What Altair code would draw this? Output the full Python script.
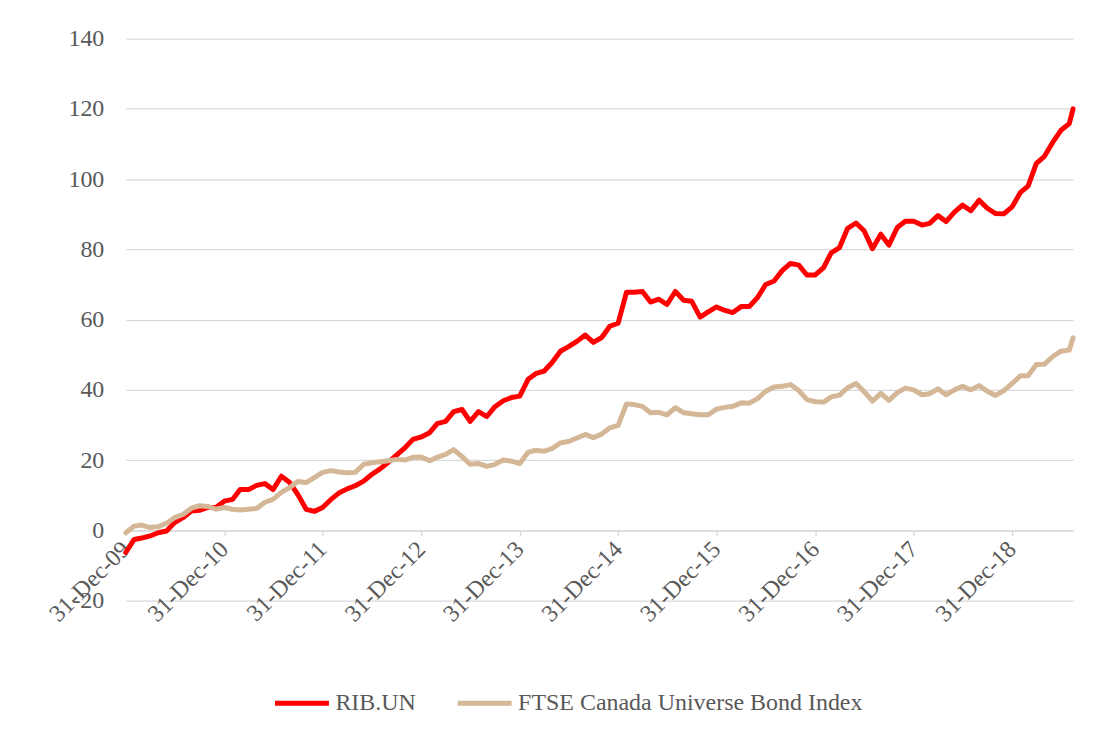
import altair as alt
import pandas as pd

# ---- data ----
series_names = ["RIB.UN", "FTSE Canada Universe Bond Index"]
series_colors = ["#FF0000", "#D4B797"]

# month-end observation dates, Dec-2009 .. Jul-2019, plus a final mid-August point
month_end_dates = list((pd.date_range("2010-01-01", "2019-08-01", freq="MS") - pd.Timedelta(days=1)).strftime("%Y-%m-%d"))
dates = month_end_dates + ["2019-08-14"]

rib = [
    -6.3, -2.6, -2.2, -1.6, -0.7, -0.2, 2.2, 3.6, 5.5, 5.7, 6.5, 6.5,
    8.3, 8.8, 11.6, 11.6, 12.8, 13.3, 11.6, 15.4, 13.6, 10.2, 6.0, 5.4,
    6.5, 8.8, 10.6, 11.8, 12.7, 14.0, 15.9, 17.5, 19.4, 21.4, 23.5, 25.9,
    26.6, 27.8, 30.4, 31.0, 33.8, 34.4, 31.0, 33.8, 32.4, 35.2, 36.9, 37.8,
    38.2, 43.0, 44.6, 45.3, 47.8, 51.0, 52.3, 53.8, 55.6, 53.5, 54.9, 58.1,
    59.0, 67.8, 67.8, 68.0, 65.0, 65.8, 64.3, 68.0, 65.5, 65.2, 60.7, 62.2,
    63.6, 62.6, 62.0, 63.7, 63.7, 66.3, 70.0, 71.0, 74.0, 76.0, 75.5, 72.7,
    72.7, 74.8, 79.0, 80.5, 86.0, 87.5, 85.3, 80.2, 84.3, 81.2, 86.2, 88.0,
    88.0, 86.9, 87.4, 89.6, 87.9, 90.6, 92.6, 91.0, 94.0, 91.7, 90.2, 90.1,
    92.1, 96.2, 98.0, 104.5, 106.5, 110.5, 113.9, 115.8,
    120.0,
]
ftse = [
    -0.7, 1.2, 1.5, 0.8, 1.0, 2.0, 3.6, 4.5, 6.3, 7.0, 6.8, 6.0,
    6.5, 6.0, 5.8, 6.0, 6.2, 8.0, 8.8, 10.8, 12.2, 13.9, 13.6, 15.0,
    16.5, 17.0, 16.6, 16.4, 16.5, 18.8, 19.2, 19.5, 19.8, 20.2, 20.0, 20.8,
    20.9, 19.8, 20.8, 21.6, 23.0, 21.0, 18.8, 19.0, 18.2, 18.8, 20.0, 19.7,
    19.0, 22.2, 22.8, 22.5, 23.3, 24.9, 25.3, 26.3, 27.3, 26.4, 27.4, 29.2,
    29.9, 36.0, 35.8, 35.3, 33.5, 33.6, 32.9, 34.9, 33.5, 33.2, 32.9, 32.9,
    34.5, 35.0, 35.3, 36.3, 36.2, 37.5, 39.6, 40.8, 41.0, 41.5, 39.8, 37.2,
    36.6, 36.5, 38.0, 38.5, 40.6, 41.8, 39.5, 36.8, 39.0, 37.0, 39.2, 40.5,
    40.0, 38.6, 38.9, 40.3, 38.6, 40.0, 41.0, 40.0, 41.2, 39.6, 38.4, 39.8,
    41.8, 44.0, 44.0, 47.2, 47.3, 49.5, 51.0, 51.3,
    54.8,
]

x_tick_dates = ["2009-12-31", "2010-12-31", "2011-12-31", "2012-12-31", "2013-12-31",
                "2014-12-31", "2015-12-31", "2016-12-31", "2017-12-31", "2018-12-31"]
y_ticks = [-20, 0, 20, 40, 60, 80, 100, 120, 140]
x_domain = ["2009-12-31", "2019-08-14"]


def dt(s):
    y, m, d = s.split("-")
    return alt.DateTime(year=int(y), month=int(m), date=int(d), utc=True)


n = min(len(dates), len(rib), len(ftse))
df = pd.DataFrame({
    "date": dates[:n] * 2,
    "value": rib[:n] + ftse[:n],
    "series": [series_names[0]] * n + [series_names[1]] * n,
})

W, H = 949, 563
FONT = "Liberation Serif"
FS = 24
TXT = "#595959"
GRID = "#D9D9D9"

y_min, y_max = y_ticks[0], y_ticks[-1]
axis_offset = -H * (0 - y_min) / (y_max - y_min)

color = alt.Color(
    "series:N",
    scale=alt.Scale(domain=series_names, range=series_colors),
    legend=alt.Legend(
        title=None, orient="none", direction="horizontal",
        legendX=147, legendY=636,
        symbolType="stroke", symbolStrokeWidth=5, symbolSize=2916,
        labelFont=FONT, labelFontSize=FS, labelColor=TXT, labelLimit=0,
        labelOffset=4, columnPadding=31, padding=0,
    ),
)

x = alt.X(
    "date:T",
    title=None,
    scale=alt.Scale(type="utc", domain=[dt(d) for d in x_domain]),
    axis=alt.Axis(
        values=[dt(d) for d in x_tick_dates],
        labelExpr="utcFormat(datum.value, '%d-%b-%y')",
        labelAngle=-45, labelAlign="right", labelBaseline="middle",
        labelFont=FONT, labelFontSize=FS, labelColor=TXT, labelPadding=10,
        labelOverlap=False, labelFlush=False, labelLimit=0,
        grid=False, domainColor=GRID, domainWidth=1.3,
        tickColor=GRID, tickSize=5, tickWidth=1.3,
        offset=axis_offset,
    ),
)
y = alt.Y(
    "value:Q",
    title=None,
    scale=alt.Scale(domain=[y_min, y_max], nice=False),
    axis=alt.Axis(
        values=y_ticks, domain=False, ticks=False,
        labelExpr="'' + datum.value",
        labelFont=FONT, labelFontSize=FS, labelColor=TXT, labelPadding=22,
        gridColor=GRID, gridWidth=1.3,
    ),
)

base = alt.Chart(df).encode(x=x, y=y, color=color)
line_kw = dict(strokeWidth=5, strokeJoin="round", strokeCap="round")
red = base.transform_filter(alt.datum.series == series_names[0]).mark_line(**line_kw)
tan = base.transform_filter(alt.datum.series == series_names[1]).mark_line(**line_kw)

chart = (
    alt.layer(red, tan)
    .properties(
        width=W, height=H,
        autosize=alt.AutoSizeParams(type="none"),
        padding={"left": 118, "top": 30, "right": 30, "bottom": 130},
    )
    .configure(background="white")
    .configure_view(stroke=None)
)

chart.save("out.html", embed_options={"renderer": "svg", "actions": False})
